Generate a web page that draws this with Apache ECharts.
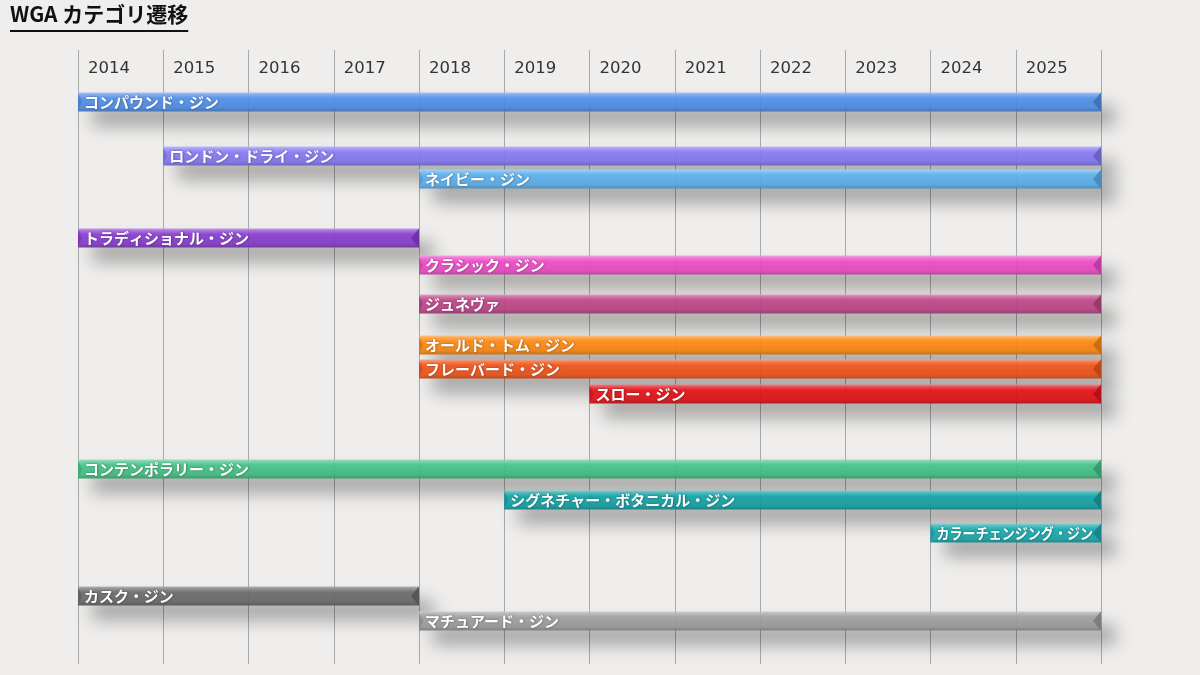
<!DOCTYPE html>
<html><head><meta charset="utf-8">
<script src="https://cdn.jsdelivr.net/npm/echarts@6/dist/echarts.min.js"></script>
<style>html,body{margin:0;padding:0;background:#efeeed}#c{width:1200px;height:675px}</style>
</head><body><div id="c"></div>
<script>
const titleText = 'WGA カテゴリ遷移';
const yearLabels = ['2014','2015','2016','2017','2018','2019','2020','2021','2022','2023','2024','2025'];
const categories = ['コンパウンド・ジン','ロンドン・ドライ・ジン','ネイビー・ジン','トラディショナル・ジン','クラシック・ジン','ジュネヴァ','オールド・トム・ジン','フレーバード・ジン','スロー・ジン','コンテンポラリー・ジン','シグネチャー・ボタニカル・ジン','カラーチェンジング・ジン','カスク・ジン','マチュアード・ジン'];
const startYear = [2014, 2015, 2018, 2014, 2018, 2018, 2018, 2018, 2020, 2014, 2019, 2024, 2014, 2018];
const endYear   = [2026, 2026, 2026, 2018, 2026, 2026, 2026, 2026, 2026, 2026, 2026, 2026, 2018, 2026];
// vertical position (row) of each category on the chart's lane scale
const rowPos    = [52, 106, 129, 188, 215, 254, 295, 319, 344, 419, 450, 483, 546, 571];
const palette = ['#5290ea','#877af6','#5fb3f2','#8a3ed1','#f04cc8','#c1478a','#ff8a12','#f5561b','#e8141b','#44c488','#15a5a8','#19acb0','#6c6c6c','#a0a0a0'];

function parseHex(c){return [parseInt(c.slice(1,3),16),parseInt(c.slice(3,5),16),parseInt(c.slice(5,7),16)];}
function mix(c, t, a){const p=parseHex(c);const q=t==='w'?[255,255,255]:[0,0,0];return 'rgb('+p.map((v,i)=>Math.round(v+(q[i]-v)*a)).join(',')+')';}

const data = categories.map((n,i)=>[startYear[i], endYear[i], rowPos[i], n]);

const chart = echarts.init(document.getElementById('c'));
const cv = document.createElement('canvas').getContext('2d');
const titleFont = 'bold 21px "Noto Sans CJK JP"';
const labelFont = 'bold 15px "Noto Sans CJK JP"';
cv.font = titleFont;
const tw = cv.measureText(titleText).width;

chart.setOption({
  backgroundColor: '#efeeed',
  animation: false,
  graphic: [
    {type:'text', left: 10, top: 4, style:{text:titleText, font:titleFont, fill:'#111'}},
    {type:'line', shape:{x1:10, y1:31, x2:10+tw, y2:31}, style:{stroke:'#111', lineWidth:2}}
  ],
  grid: {left: 78, right: 99, top: 50, bottom: 11},
  xAxis: {
    type: 'value', position: 'top', min: 2014, max: 2026, interval: 1,
    axisLine: {show:false}, axisTick: {show:false},
    splitLine: {show:true, lineStyle:{color:'#a9a9a9', width:1}},
    axisLabel: {
      inside: true, margin: 10, align: 'left', verticalAlign: 'top', padding: [0,0,0,10],
      color: '#333', fontSize: 16.5, fontFamily: 'DejaVu Sans', showMaxLabel: false,
      formatter: v => { const i = Math.round(v) - 2014; return yearLabels[i] || ''; }
    }
  },
  yAxis: {type:'value', inverse:true, min:0, max:614, show:false, splitLine:{show:false}},
  series: [{
    type: 'custom',
    data: data,
    encode: {x:[0,1], y:2},
    renderItem: function(params, api){
      const i = params.dataIndex;
      const s = api.coord([api.value(0), api.value(2)]);
      const e = api.coord([api.value(1), api.value(2)]);
      const h = 19, x0 = s[0], x1 = e[0], yc = s[1], top = yc - h/2, bot = yc + h/2;
      const c = palette[i];
      const name = api.value(3);
      cv.font = labelFont;
      const w = cv.measureText(name).width;
      const avail = x1 - x0 - 14;
      const sc = w > avail ? avail / w : 1;
      const grad = new echarts.graphic.LinearGradient(0,0,0,1,[
        {offset:0, color: mix(c,'w',0.45)},
        {offset:0.12, color: mix(c,'w',0.22)},
        {offset:0.3, color: c},
        {offset:0.8, color: mix(c,'k',0.06)},
        {offset:1, color: mix(c,'k',0.22)}
      ]);
      return {type:'group', children:[
        {type:'rect', shape:{x:x0, y:top, width:x1-x0, height:h},
          style:{fill:grad, opacity:0.93, shadowBlur:18, shadowOffsetX:14, shadowOffsetY:14, shadowColor:'rgba(0,0,0,0.36)'}},
        {type:'polygon', shape:{points:[[x1,top],[x1-8,yc],[x1,bot]]}, style:{fill:mix(c,'k',0.25), opacity:0.85}},
        {type:'polygon', shape:{points:[[x0,top+1],[x0+4,yc],[x0,bot-1]]}, style:{fill:mix(c,'k',0.2), opacity:0.6}},
        {type:'text', x: x0+6, y: yc, scaleX: sc,
          style:{text: name, x: 0, y: 0, verticalAlign:'middle', align:'left',
          fill:'#fff', font: labelFont,
          textShadowColor:'rgba(0,0,0,0.45)', textShadowBlur:2, textShadowOffsetX:0.5, textShadowOffsetY:0.5}}
      ]};
    }
  }]
});
</script></body></html>
